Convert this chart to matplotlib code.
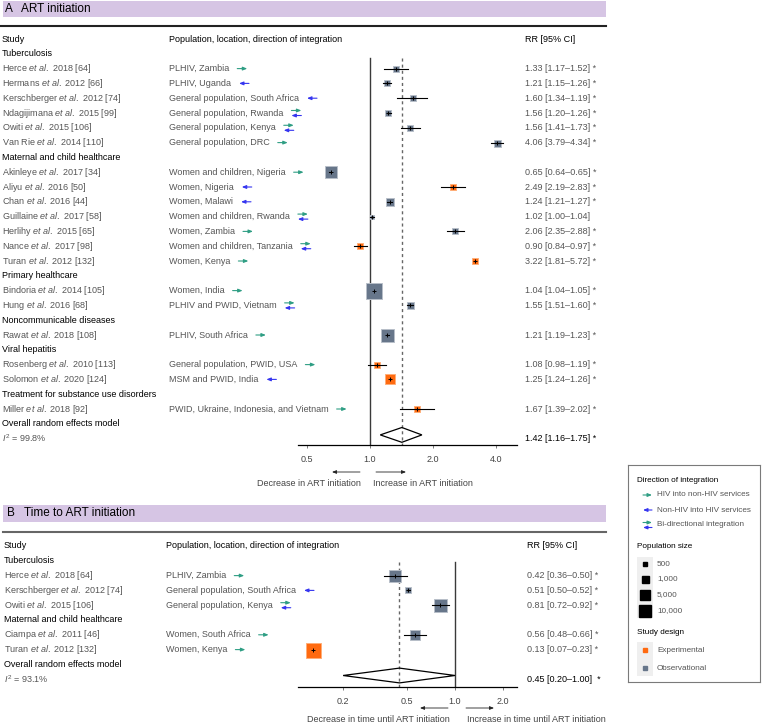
import numpy as np
import matplotlib
matplotlib.use("Agg")
import matplotlib.pyplot as plt
from matplotlib.transforms import blended_transform_factory
from matplotlib.patches import Rectangle, Polygon, FancyArrowPatch
from matplotlib.lines import Line2D
from matplotlib.ticker import NullLocator

W, H = 763, 724          # output size in px (dpi 100)
ROW = 14.8               # row pitch in px
nan = np.nan

plt.rcParams['font.family'] = ['Liberation Sans', 'DejaVu Sans']
plt.rcParams['mathtext.fontset'] = 'custom'
plt.rcParams['mathtext.rm'] = 'Liberation Sans'
plt.rcParams['mathtext.it'] = 'Liberation Sans:italic'

GREEN, BLUE = '#2f9e84', '#3535f0'
FACE = {'exp': '#ff6a10', 'obs': '#67768a'}
EDGE = {'exp': '#ffae78', 'obs': '#b8bfc9'}
GREY = '#555555'
FS = 6.5
LFS = 5.9
ARROW = '-|>,head_length=0.25,head_width=0.1'

# population-size legend breaks and the box width (px) each one is drawn with
size_breaks = [500, 1000, 5000, 10000]
size_px = [5, 8, 11, 13]

# ---------------- A: ART initiation ----------------
a_groups = ["Tuberculosis", "Maternal and child healthcare", "Primary healthcare",
            "Noncommunicable diseases", "Viral hepatitis",
            "Treatment for substance use disorders"]
a_group_of = [0, 0, 0, 0, 0, 0, 1, 1, 1, 1, 1, 1, 1, 2, 2, 3, 4, 4, 5]
a_author = ["Herce", "Hermans", "Kerschberger", "Ndagijimana", "Owiti", "Van Rie",
            "Akinleye", "Aliyu", "Chan", "Guillaine", "Herlihy", "Nance", "Turan",
            "Bindoria", "Hung", "Rawat", "Rosenberg", "Solomon", "Miller"]
a_ref = ["2018 [64]", "2012 [66]", "2012 [74]", "2015 [99]", "2015 [106]", "2014 [110]",
         "2017 [34]", "2016 [50]", "2016 [44]", "2017 [58]", "2015 [65]", "2017 [98]",
         "2012 [132]", "2014 [105]", "2016 [68]", "2018 [108]", "2010 [113]",
         "2020 [124]", "2018 [92]"]
a_setting = ["PLHIV, Zambia", "PLHIV, Uganda", "General population, South Africa",
             "General population, Rwanda", "General population, Kenya",
             "General population, DRC", "Women and children, Nigeria", "Women, Nigeria",
             "Women, Malawi", "Women and children, Rwanda", "Women, Zambia",
             "Women and children, Tanzania", "Women, Kenya", "Women, India",
             "PLHIV and PWID, Vietnam", "PLHIV, South Africa",
             "General population, PWID, USA", "MSM and PWID, India",
             "PWID, Ukraine, Indonesia, and Vietnam"]
a_dir = ["h2n", "n2h", "n2h", "bi", "bi", "h2n", "h2n", "n2h", "n2h", "bi", "h2n", "bi",
         "h2n", "h2n", "bi", "h2n", "h2n", "n2h", "h2n"]
# estimates / CIs as drawn in the plot (nan = no whisker shown)
a_est = [1.33, 1.21, 1.60, 1.22, 1.56, 4.06, 0.65, 2.49, 1.24, 1.02, 2.55, 0.90, 3.17,
         1.04, 1.55, 1.21, 1.08, 1.25, 1.67]
a_lo = [1.17, 1.15, 1.34, 1.20, 1.41, 3.79, 0.64, 2.19, 1.21, 1.00, 2.33, 0.84, nan,
        1.04, 1.51, 1.19, 0.98, 1.24, 1.39]
a_hi = [1.52, 1.26, 1.87, 1.26, 1.73, 4.34, 0.65, 2.83, 1.27, 1.04, 2.81, 0.97, nan,
        1.05, 1.60, 1.23, 1.19, 1.26, 2.02]
a_rr_txt = ["1.33 [1.17–1.52] *", "1.21 [1.15–1.26] *", "1.60 [1.34–1.19] *",
            "1.56 [1.20–1.26] *", "1.56 [1.41–1.73] *", "4.06 [3.79–4.34] *",
            "0.65 [0.64–0.65] *", "2.49 [2.19–2.83] *", "1.24 [1.21–1.27] *",
            "1.02 [1.00–1.04]", "2.06 [2.35–2.88] *", "0.90 [0.84–0.97] *",
            "3.22 [1.81–5.72] *", "1.04 [1.04–1.05] *", "1.55 [1.51–1.60] *",
            "1.21 [1.19–1.23] *", "1.08 [0.98–1.19] *", "1.25 [1.24–1.26] *",
            "1.67 [1.39–2.02] *"]
a_n = [830, 830, 670, 830, 830, 1000, 10000, 830, 2300, 500, 830, 830, 830,
       19000, 1000, 12500, 670, 5000, 670]
a_design = ["obs", "obs", "obs", "obs", "obs", "obs", "obs", "exp", "obs", "obs", "obs",
            "exp", "exp", "obs", "obs", "obs", "exp", "exp", "exp"]
a_overall = (1.42, 1.12, 1.77)
a_overall_txt = "1.42 [1.16–1.75] *"
a_i2 = "99.8%"
a_ticks = [0.5, 1.0, 2.0, 4.0]
a_ticklabels = ["0.5", "1.0", "2.0", "4.0"]

# ---------------- B: Time to ART initiation ----------------
b_groups = ["Tuberculosis", "Maternal and child healthcare"]
b_group_of = [0, 0, 0, 1, 1]
b_author = ["Herce", "Kerschberger", "Owiti", "Ciampa", "Turan"]
b_ref = ["2018 [64]", "2012 [74]", "2015 [106]", "2011 [46]", "2012 [132]"]
b_setting = ["PLHIV, Zambia", "General population, South Africa",
             "General population, Kenya", "Women, South Africa", "Women, Kenya"]
b_dir = ["h2n", "n2h", "bi", "h2n", "h2n"]
b_est = [0.42, 0.51, 0.81, 0.56, 0.13]
b_lo = [0.36, 0.50, 0.72, 0.48, nan]
b_hi = [0.50, 0.52, 0.92, 0.66, nan]
b_rr_txt = ["0.42 [0.36–0.50] *", "0.51 [0.50–0.52] *", "0.81 [0.72–0.92] *",
            "0.56 [0.48–0.66] *", "0.13 [0.07–0.23] *"]
b_n = [8500, 670, 12500, 4000, 17500]
b_design = ["obs", "obs", "obs", "obs", "exp"]
b_overall = (0.45, 0.20, 1.00)
b_overall_txt = "0.45 [0.20–1.00]  *"
b_i2 = "93.1%"
b_ticks = [0.2, 0.5, 1.0, 2.0]
b_ticklabels = ["0.2", "0.5", "1.0", "2.0"]


def box_px(n):
    return np.interp(n, [0] + size_breaks + [20000], [3] + size_px + [17])


fig = plt.figure(figsize=(W / 100, H / 100), dpi=100)
rend = fig.canvas.get_renderer()


def fx(x):
    return x / W


def fy(y):
    return 1 - y / H


def dir_arrows(ax, tr, x0, r, kind, length=10):
    def one(xa, xb, y, c):
        ax.annotate('', xy=(fx(xb), y), xytext=(fx(xa), y), xycoords=tr, textcoords=tr,
                    arrowprops=dict(arrowstyle=ARROW, color=c, lw=0.8, shrinkA=0,
                                    shrinkB=0, mutation_scale=10))
    if kind == 'h2n':
        one(x0, x0 + length, r, GREEN)
    elif kind == 'n2h':
        one(x0 + length, x0, r, BLUE)
    else:
        one(x0, x0 + length, r - 0.17, GREEN)
        one(x0 + length, x0, r + 0.17, BLUE)


def forest(d):
    ybot = (d['axis_px'] - d['head_y']) / ROW
    ax = fig.add_axes([fx(298), fy(d['axis_px']), (517 - 298) / W,
                       (d['axis_px'] - d['head_y'] + 0.405 * ROW) / H])
    ax.set_xscale('log')
    ax.set_xlim(d['xlim'])
    ax.set_ylim(ybot, -0.405)
    ax.set_xticks(d['ticks'])
    ax.set_xticklabels(d['ticklabels'])
    ax.xaxis.set_minor_locator(NullLocator())
    ax.set_yticks([])
    for s in ['top', 'left', 'right']:
        ax.spines[s].set_visible(False)
    ax.spines['bottom'].set_linewidth(0.9)
    ax.tick_params(axis='x', length=2.5, width=0.6, color='#666', labelsize=FS,
                   labelcolor='#444', pad=5)
    ax.patch.set_alpha(0)
    tr = blended_transform_factory(fig.transFigure, ax.transData)

    def txt(x, r, s, color=GREY, **kw):
        return ax.text(fx(x), r, s, transform=tr, va='center', fontsize=FS,
                       color=color, **kw)

    sx, px_, rx = d['study_x'], d['set_x'], d['rr_x']
    txt(sx, 0, "Study", color='k')
    txt(px_, 0, "Population, location, direction of integration", color='k')
    txt(rx, 0, "RR [95% CI]", color='k')

    r = 1
    for g, gname in enumerate(d['groups']):
        txt(sx, r, gname, color='k')
        r += 1
        for i in [k for k, gg in enumerate(d['group_of']) if gg == g]:
            txt(sx, r, f"{d['author'][i]} $\\it{{et\\ al.}}$ {d['ref'][i]}")
            t = txt(px_, r, d['setting'][i])
            ext = t.get_window_extent(rend)
            dir_arrows(ax, tr, ext.x1 + 8, r, d['dir'][i])
            txt(rx, r, d['rr_txt'][i])
            w = box_px(d['n'][i])
            ax.plot(d['est'][i], r, marker='s', ms=(w - 1) * 0.72,
                    mfc=FACE[d['design'][i]], mec=EDGE[d['design'][i]], mew=0.7,
                    ls='none', zorder=3)
            if not np.isnan(d['lo'][i]):
                ax.plot([d['lo'][i], d['hi'][i]], [r, r], color='k', lw=0.8, zorder=4)
            ax.plot(d['est'][i], r, marker='+', ms=3.2, mew=0.7, color='k', zorder=5)
            r += 1

    txt(sx, r, "Overall random effects model", color='k')
    r += 1
    txt(sx, r, "$\\it{I}^{2}$ = " + d['i2'])
    txt(rx, r, d['overall_txt'], color='k')
    est, lo, hi = d['overall']
    yc = r - 0.25
    ax.add_patch(Polygon([(lo, yc), (est, yc - 0.5), (hi, yc), (est, yc + 0.5)],
                         closed=True, fill=False, ec='k', lw=0.9, zorder=4))
    ax.plot([1, 1], [d['ref_start'], ybot], color='#3a3a3a', lw=1.0, zorder=1)
    ax.plot([est, est], [d['ref_start'], ybot], color='#666', lw=1.0,
            dashes=(2.2, 2.2), zorder=1)
    return ax


panel_a = dict(head_y=39, axis_px=445, xlim=(0.453, 5.04), ticks=a_ticks,
               ticklabels=a_ticklabels, groups=a_groups, group_of=a_group_of,
               author=a_author, ref=a_ref, setting=a_setting, dir=a_dir, est=a_est,
               lo=a_lo, hi=a_hi, rr_txt=a_rr_txt, n=a_n, design=a_design,
               overall=a_overall, overall_txt=a_overall_txt, i2=a_i2,
               study_x=2, set_x=169, rr_x=525, ref_start=1.28)
panel_b = dict(head_y=546, axis_px=687, xlim=(0.1045, 2.44), ticks=b_ticks,
               ticklabels=b_ticklabels, groups=b_groups, group_of=b_group_of,
               author=b_author, ref=b_ref, setting=b_setting, dir=b_dir, est=b_est,
               lo=b_lo, hi=b_hi, rr_txt=b_rr_txt, n=b_n, design=b_design,
               overall=b_overall, overall_txt=b_overall_txt, i2=b_i2,
               study_x=4, set_x=166, rr_x=527, ref_start=1.1)
forest(panel_a)
forest(panel_b)

# panel title bands
for band_top, band_h, lab, title, line_y, line_c, lx in [
        (1, 16, "A", "ART initiation", 26, '#222222', 0),
        (505, 17, "B", "Time to ART initiation", 532, '#666666', 3)]:
    fig.add_artist(Rectangle((fx(3), fy(band_top + band_h)), 603 / W, band_h / H,
                             transform=fig.transFigure, color='#d6c5e4', lw=0))
    yc = band_top + band_h / 2
    fig.text(fx(5 if lab == "A" else 7), fy(yc), lab, fontsize=8.5, va='center')
    fig.text(fx(21 if lab == "A" else 24), fy(yc), title, fontsize=8.5, va='center')
    fig.add_artist(Line2D([fx(lx), fx(606)], [fy(line_y)] * 2, color=line_c, lw=1.5))


def fig_arrow(xa, xb, y):
    fig.add_artist(FancyArrowPatch((fx(xa), fy(y)), (fx(xb), fy(y)),
                                   transform=fig.transFigure, arrowstyle=ARROW,
                                   mutation_scale=10, color='#222', lw=0.6,
                                   shrinkA=0, shrinkB=0))


fig_arrow(360, 332, 472)
fig_arrow(376, 406, 472)
fig.text(fx(361), fy(483), "Decrease in ART initiation", ha='right', va='center',
         fontsize=FS, color='#444')
fig.text(fx(373), fy(483), "Increase in ART initiation", ha='left', va='center',
         fontsize=FS, color='#444')
fig_arrow(448, 420, 708)
fig_arrow(466, 494, 708)
fig.text(fx(450), fy(720), "Decrease in time until ART initiation", ha='right',
         va='center', fontsize=FS, color='#444')
fig.text(fx(467), fy(720), "Increase in time until ART initiation", ha='left',
         va='center', fontsize=FS, color='#444')

# ---------------- legend ----------------
lg = fig.add_axes([fx(628), fy(682), 132 / W, 217 / H])
lg.set_xlim(0, 132)
lg.set_ylim(217, 0)
lg.set_xticks([])
lg.set_yticks([])
for s in lg.spines.values():
    s.set_color('#7a7a7a')
    s.set_linewidth(0.8)

lg.text(9, 16, "Direction of integration", fontsize=LFS, va='center')
dir_labels = ["HIV into non-HIV services", "Non-HIV into HIV services",
              "Bi-directional integration"]
for k, (lab, kind) in enumerate(zip(dir_labels, ["h2n", "n2h", "bi"])):
    y = 30 + 15 * k
    pairs = {'h2n': [(15, 24, 0, GREEN)], 'n2h': [(24, 15, 0, BLUE)],
             'bi': [(15, 24, -2.5, GREEN), (24, 15, 2.5, BLUE)]}[kind]
    for xa, xb, dy, c in pairs:
        lg.annotate('', xy=(xb, y + dy), xytext=(xa, y + dy),
                    arrowprops=dict(arrowstyle=ARROW, color=c, lw=0.8, shrinkA=0,
                                    shrinkB=0, mutation_scale=10))
    lg.text(29, y, lab, fontsize=LFS, va='center', color=GREY)

lg.text(9, 82, "Population size", fontsize=LFS, va='center')
size_y = [99, 114, 130, 146]
edges = [92, 106.5, 122, 138, 153]
for k, (n, y) in enumerate(zip(size_breaks, size_y)):
    lg.add_patch(Rectangle((9, edges[k]), 16, edges[k + 1] - edges[k],
                           color='#efefef', lw=0))
    lg.plot(17, y, marker='s', ms=(box_px(n) - 1) * 0.72, color='k', ls='none')
    lg.text(29, y, f"{n:,}", fontsize=LFS, va='center', color=GREY)

lg.text(9, 168, "Study design", fontsize=LFS, va='center')
lg.add_patch(Rectangle((9, 177), 16, 34, color='#efefef', lw=0))
for y, key, lab in [(185, 'exp', "Experimental"), (203, 'obs', "Observational")]:
    lg.plot(17, y, marker='s', ms=2.4, color=FACE[key], ls='none')
    lg.text(29, y, lab, fontsize=LFS, va='center', color=GREY)

fig.savefig("out.png", dpi=100)
